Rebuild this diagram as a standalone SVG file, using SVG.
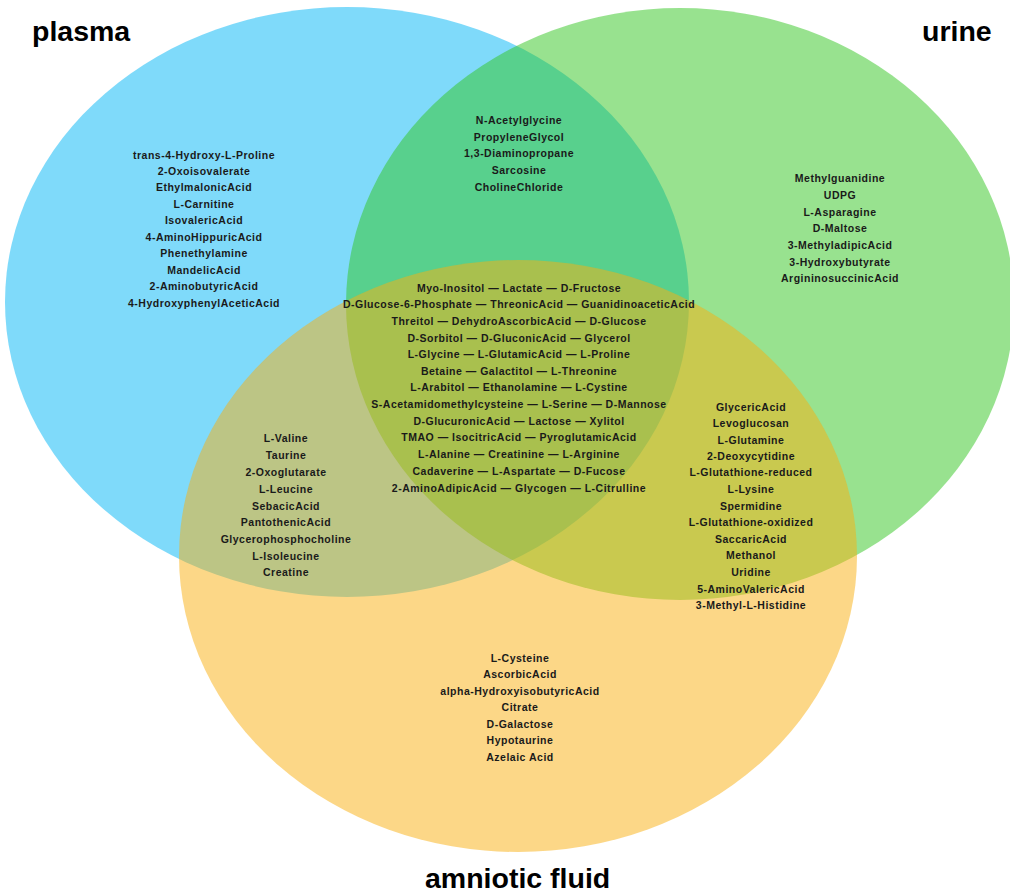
<svg xmlns="http://www.w3.org/2000/svg" width="1010" height="892" viewBox="0 0 1010 892">
<style>
.set{opacity:0.5}
.t{font-family:"Liberation Sans",Arial,sans-serif;font-weight:bold;font-size:10.5px;letter-spacing:0.5px;fill:#1a1a1a;text-anchor:middle}
.title{font-family:"Liberation Sans",Arial,sans-serif;font-weight:bold;font-size:28.5px;fill:#000}
</style>
<rect width="1010" height="892" fill="#fff"/>
<g id="sets">
<ellipse id="plasma-set" class="set" cx="347" cy="302" rx="342" ry="295" fill="#00b5f5"/>
<ellipse id="urine-set" class="set" cx="680" cy="304" rx="334" ry="296" fill="#32c620"/>
<ellipse id="amniotic-set" class="set" cx="518" cy="556" rx="339" ry="296" fill="#fab010"/>
</g>
<g id="titles">
<text class="title" x="32" y="41">plasma</text>
<text class="title" x="922" y="41">urine</text>
<text class="title" x="425" y="888">amniotic fluid</text>
</g>
<g id="plasma-only" class="t">
<text x="204" y="159">trans-4-Hydroxy-L-Proline</text>
<text x="204" y="175">2-Oxoisovalerate</text>
<text x="204" y="191">EthylmalonicAcid</text>
<text x="204" y="208">L-Carnitine</text>
<text x="204" y="224">IsovalericAcid</text>
<text x="204" y="241">4-AminoHippuricAcid</text>
<text x="204" y="257">Phenethylamine</text>
<text x="204" y="274">MandelicAcid</text>
<text x="204" y="290">2-AminobutyricAcid</text>
<text x="204" y="307">4-HydroxyphenylAceticAcid</text>
</g>
<g id="plasma-urine" class="t">
<text x="519" y="124">N-Acetylglycine</text>
<text x="519" y="141">PropyleneGlycol</text>
<text x="519" y="157">1,3-Diaminopropane</text>
<text x="519" y="174">Sarcosine</text>
<text x="519" y="191">CholineChloride</text>
</g>
<g id="urine-only" class="t">
<text x="840" y="182">Methylguanidine</text>
<text x="840" y="199">UDPG</text>
<text x="840" y="216">L-Asparagine</text>
<text x="840" y="232">D-Maltose</text>
<text x="840" y="249">3-MethyladipicAcid</text>
<text x="840" y="266">3-Hydroxybutyrate</text>
<text x="840" y="282">ArgininosuccinicAcid</text>
</g>
<g id="all-three" class="t">
<text x="519" y="292">Myo-Inositol — Lactate — D-Fructose</text>
<text x="519" y="308">D-Glucose-6-Phosphate — ThreonicAcid — GuanidinoaceticAcid</text>
<text x="519" y="325">Threitol — DehydroAscorbicAcid — D-Glucose</text>
<text x="519" y="342">D-Sorbitol — D-GluconicAcid — Glycerol</text>
<text x="519" y="358">L-Glycine — L-GlutamicAcid — L-Proline</text>
<text x="519" y="375">Betaine — Galactitol — L-Threonine</text>
<text x="519" y="391">L-Arabitol — Ethanolamine — L-Cystine</text>
<text x="519" y="408">S-Acetamidomethylcysteine — L-Serine — D-Mannose</text>
<text x="519" y="425">D-GlucuronicAcid — Lactose — Xylitol</text>
<text x="519" y="441">TMAO — IsocitricAcid — PyroglutamicAcid</text>
<text x="519" y="458">L-Alanine — Creatinine — L-Arginine</text>
<text x="519" y="475">Cadaverine — L-Aspartate — D-Fucose</text>
<text x="519" y="492">2-AminoAdipicAcid — Glycogen — L-Citrulline</text>
</g>
<g id="plasma-amniotic" class="t">
<text x="286" y="442">L-Valine</text>
<text x="286" y="459">Taurine</text>
<text x="286" y="476">2-Oxoglutarate</text>
<text x="286" y="493">L-Leucine</text>
<text x="286" y="510">SebacicAcid</text>
<text x="286" y="526">PantothenicAcid</text>
<text x="286" y="543">Glycerophosphocholine</text>
<text x="286" y="560">L-Isoleucine</text>
<text x="286" y="576">Creatine</text>
</g>
<g id="urine-amniotic" class="t">
<text x="751" y="411">GlycericAcid</text>
<text x="751" y="427">Levoglucosan</text>
<text x="751" y="444">L-Glutamine</text>
<text x="751" y="460">2-Deoxycytidine</text>
<text x="751" y="476">L-Glutathione-reduced</text>
<text x="751" y="493">L-Lysine</text>
<text x="751" y="510">Spermidine</text>
<text x="751" y="526">L-Glutathione-oxidized</text>
<text x="751" y="543">SaccaricAcid</text>
<text x="751" y="559">Methanol</text>
<text x="751" y="576">Uridine</text>
<text x="751" y="593">5-AminoValericAcid</text>
<text x="751" y="609">3-Methyl-L-Histidine</text>
</g>
<g id="amniotic-only" class="t">
<text x="520" y="662">L-Cysteine</text>
<text x="520" y="678">AscorbicAcid</text>
<text x="520" y="695">alpha-HydroxyisobutyricAcid</text>
<text x="520" y="711">Citrate</text>
<text x="520" y="728">D-Galactose</text>
<text x="520" y="744">Hypotaurine</text>
<text x="520" y="761">Azelaic Acid</text>
</g>
<g id="connectors"/>
</svg>
